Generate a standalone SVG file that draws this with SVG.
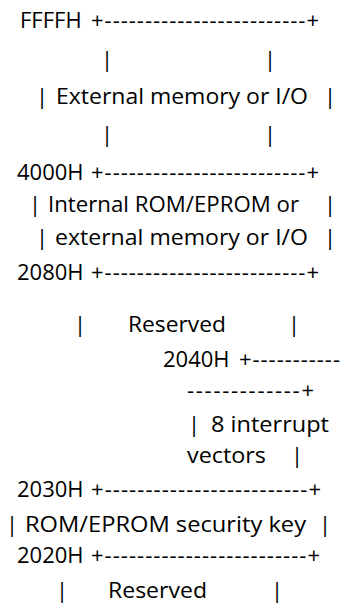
<svg xmlns="http://www.w3.org/2000/svg" width="341" height="615" viewBox="0 0 341 615">
  <style>
    text { font-family: "Open Sans", "Noto Sans", "DejaVu Sans", sans-serif; font-size: 22px; fill: #000; }
    .bar { text-anchor: middle; }
  </style>
  <rect x="0" y="0" width="341" height="615" fill="#fff"/>

  <!-- top boundary FFFFH -->
  <g id="addr-ffffh">
    <text x="20" y="28">FFFFH</text>
    <text x="91" y="28" textLength="228" lengthAdjust="spacing">+-------------------------+</text>
  </g>

  <!-- external memory or I/O block -->
  <g id="region-external">
    <text class="bar" x="107" y="67">|</text>
    <text class="bar" x="270" y="67">|</text>
    <text class="bar" x="42" y="104">|</text>
    <text x="56" y="104" textLength="252" lengthAdjust="spacingAndGlyphs">External memory or I/O</text>
    <text class="bar" x="330" y="104">|</text>
    <text class="bar" x="107" y="142">|</text>
    <text class="bar" x="270" y="142">|</text>
  </g>

  <g id="addr-4000h">
    <text x="17" y="180">4000H</text>
    <text x="91" y="180" textLength="228" lengthAdjust="spacing">+-------------------------+</text>
  </g>

  <!-- internal ROM/EPROM block -->
  <g id="region-internal-rom">
    <text class="bar" x="35" y="212">|</text>
    <text x="48" y="212" textLength="251" lengthAdjust="spacingAndGlyphs">Internal ROM/EPROM or</text>
    <text class="bar" x="330" y="212">|</text>
    <text class="bar" x="42" y="245">|</text>
    <text x="55" y="245" textLength="253" lengthAdjust="spacingAndGlyphs">external memory or I/O</text>
    <text class="bar" x="330" y="245">|</text>
  </g>

  <g id="addr-2080h">
    <text x="17" y="280">2080H</text>
    <text x="91" y="280" textLength="228" lengthAdjust="spacing">+-------------------------+</text>
  </g>

  <g id="region-reserved-upper">
    <text class="bar" x="80" y="332">|</text>
    <text x="128" y="332" textLength="98" lengthAdjust="spacingAndGlyphs">Reserved</text>
    <text class="bar" x="294" y="332">|</text>
  </g>

  <!-- 2040H boundary wraps onto a second line -->
  <g id="addr-2040h">
    <text x="163" y="367">2040H</text>
    <text x="239" y="367" textLength="101" lengthAdjust="spacing">+-----------</text>
    <text x="187" y="398" textLength="127" lengthAdjust="spacing">-------------+</text>
  </g>

  <!-- interrupt vector table -->
  <g id="region-interrupt-vectors">
    <text class="bar" x="194" y="432">|</text>
    <text x="211" y="432" textLength="118" lengthAdjust="spacingAndGlyphs">8 interrupt</text>
    <text x="187" y="463" textLength="79" lengthAdjust="spacingAndGlyphs">vectors</text>
    <text class="bar" x="297" y="463">|</text>
  </g>

  <g id="addr-2030h">
    <text x="17" y="497">2030H</text>
    <text x="91" y="497" textLength="230" lengthAdjust="spacing">+-------------------------+</text>
  </g>

  <g id="region-security-key">
    <text class="bar" x="12" y="532">|</text>
    <text x="25" y="532" textLength="281" lengthAdjust="spacingAndGlyphs">ROM/EPROM security key</text>
    <text class="bar" x="325" y="532">|</text>
  </g>

  <g id="addr-2020h">
    <text x="17" y="563">2020H</text>
    <text x="91" y="563" textLength="229" lengthAdjust="spacing">+-------------------------+</text>
  </g>

  <g id="region-reserved-lower">
    <text class="bar" x="62" y="598">|</text>
    <text x="108" y="598" textLength="99" lengthAdjust="spacingAndGlyphs">Reserved</text>
    <text class="bar" x="277" y="598">|</text>
  </g>
</svg>
